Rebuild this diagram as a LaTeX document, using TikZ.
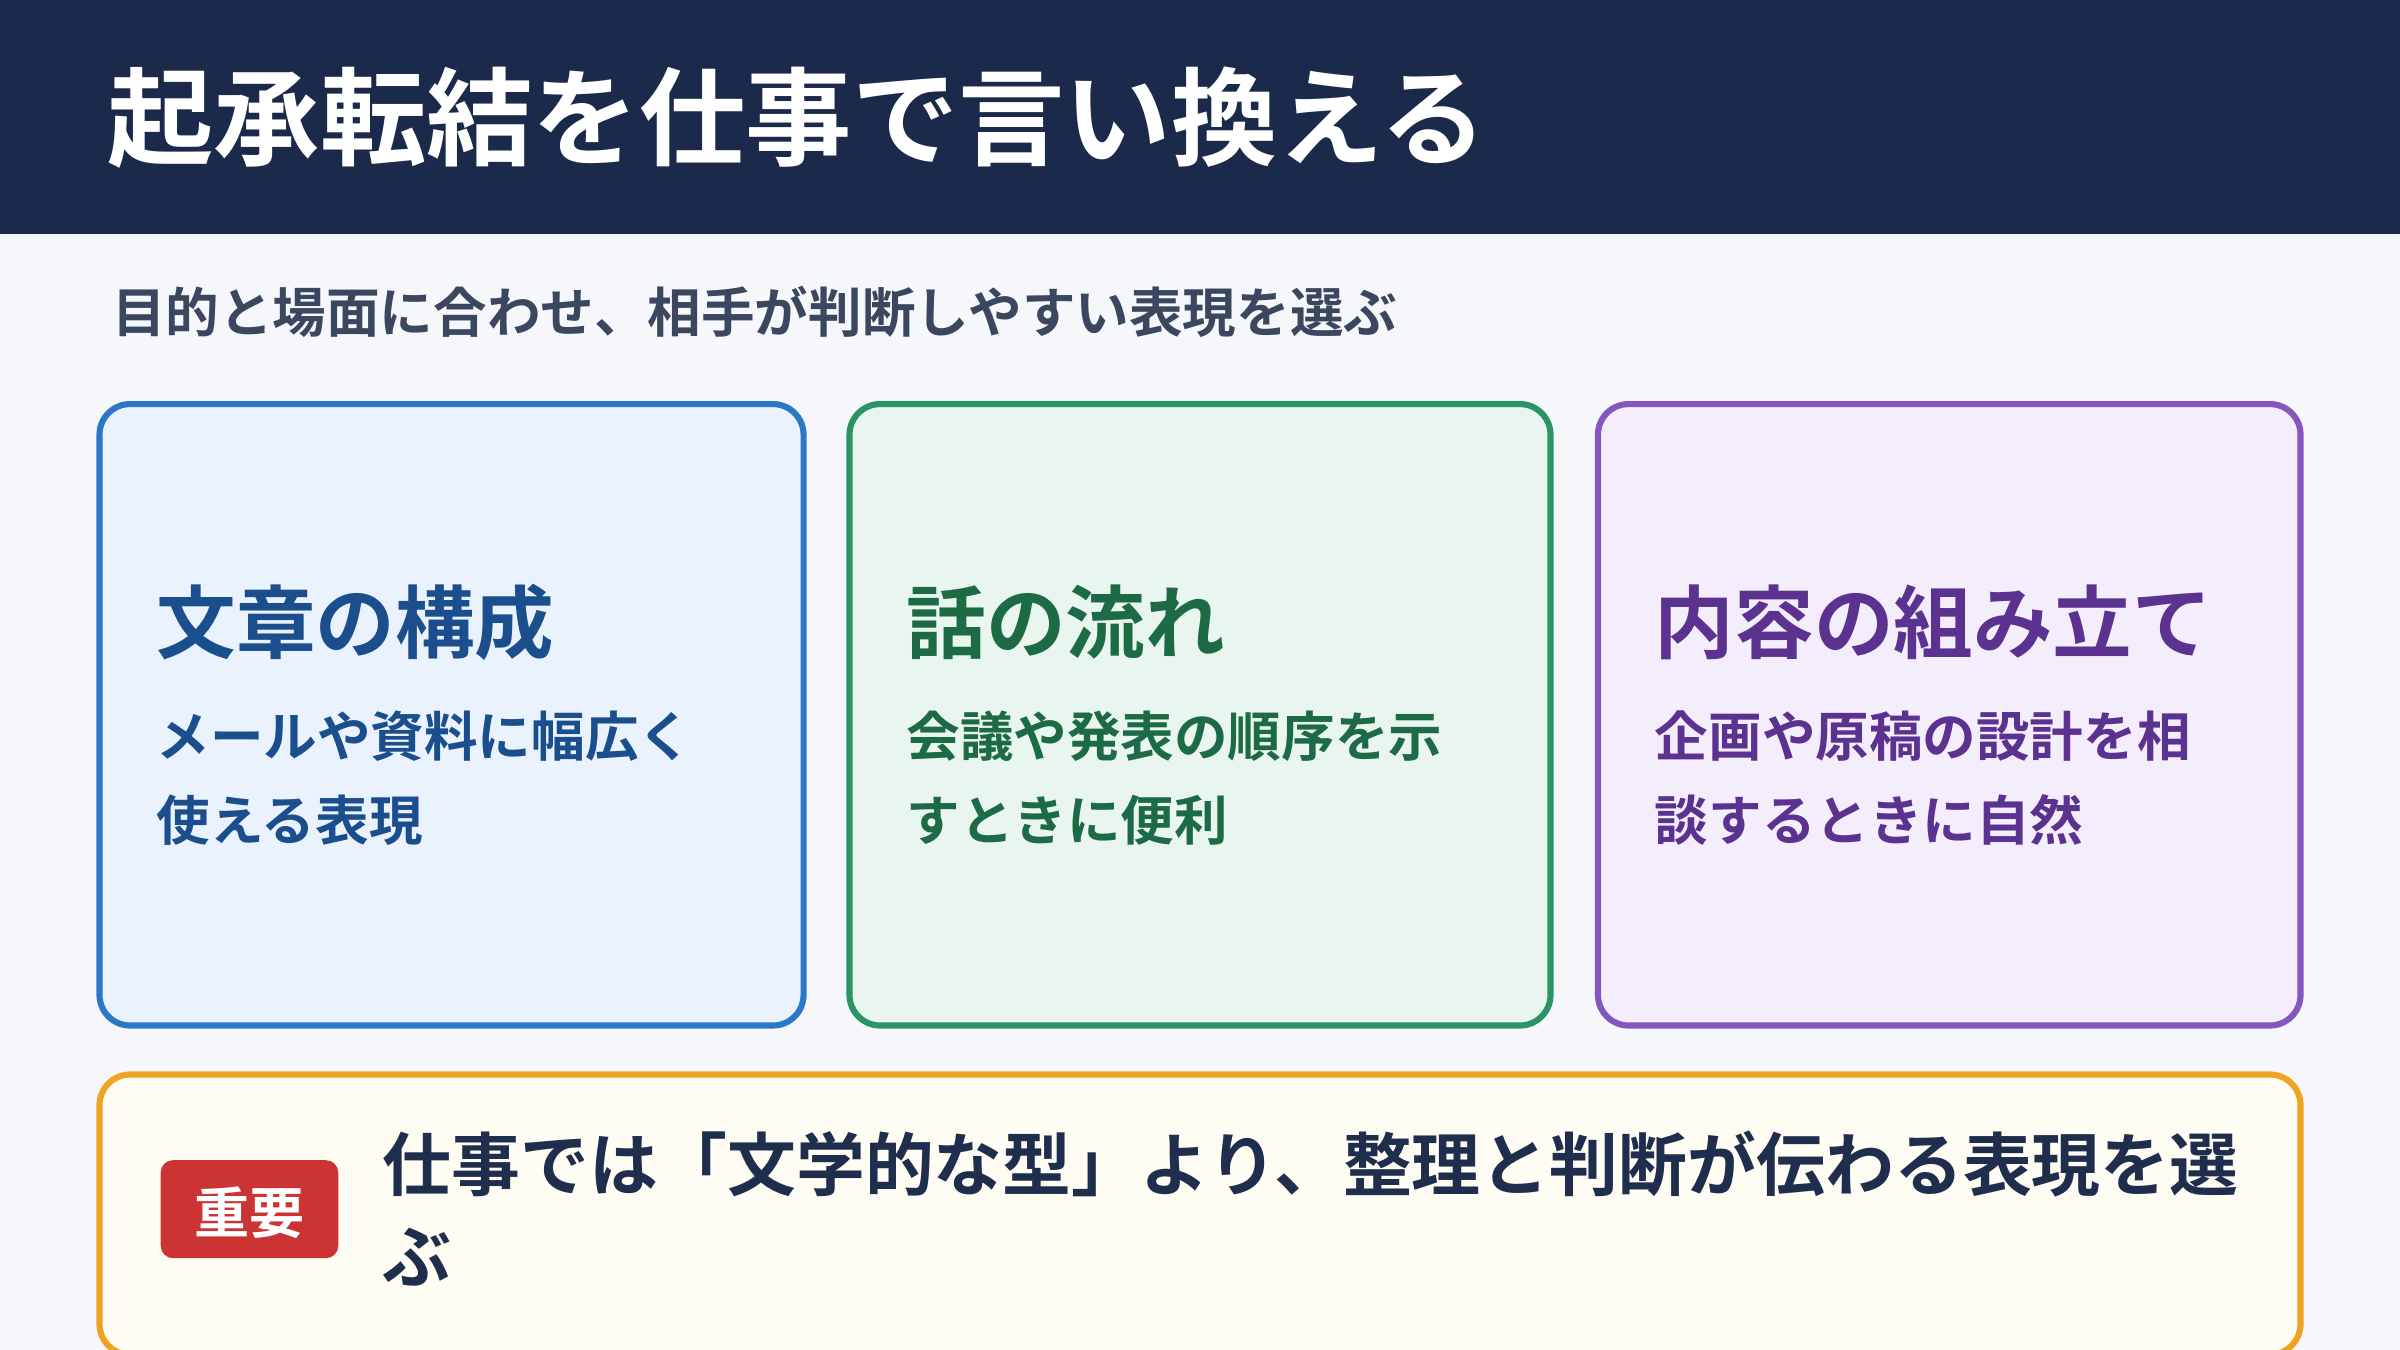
\documentclass[tikz,border=0pt]{standalone}
\usepackage{fontspec}
\setmainfont{Noto Sans CJK JP}[BoldFont={Noto Sans CJK JP Bold}]
\definecolor{bar}{HTML}{1B2A4A}
\definecolor{bg}{HTML}{F5F7FB}
\definecolor{bA}{HTML}{2B78C8}\definecolor{fA}{HTML}{EAF2FD}\definecolor{tA}{HTML}{1A4E8C}
\definecolor{bB}{HTML}{2A9465}\definecolor{fB}{HTML}{E9F6EF}\definecolor{tB}{HTML}{1D6B45}
\definecolor{bC}{HTML}{8456C0}\definecolor{fC}{HTML}{F3EDFC}\definecolor{tC}{HTML}{5B3290}
\definecolor{bD}{HTML}{F0A323}\definecolor{fD}{HTML}{FFFCF3}
\definecolor{red}{HTML}{CC3333}
\definecolor{dark}{HTML}{1F2E4C}
\definecolor{sub}{HTML}{3A475E}
\begin{document}
\begin{tikzpicture}[x=1pt,y=-1pt,
  card/.style={rounded corners=20pt,line width=4pt},
  txt/.style={anchor=base west,inner sep=0pt,font=\bfseries},
  head/.style={txt,font=\fontsize{52}{60}\selectfont\bfseries},
  body/.style={txt,font=\fontsize{35}{40}\selectfont\bfseries}]
\useasboundingbox (0,0) rectangle (1568,882);
\fill[bg] (0,0) rectangle (1568,882);
\fill[bar] (0,0) rectangle (1568,153);
\node[txt,text=white,font=\fontsize{69.5}{76}\selectfont\bfseries] (title) at (70,103) {起承転結を仕事で言い換える};
\node[txt,text=sub,font=\fontsize{35}{40}\selectfont\bfseries] (subt) at (73,217) {目的と場面に合わせ、相手が判断しやすい表現を選ぶ};
\draw[card,draw=bA,fill=fA] (65,264) rectangle (525,670);
\draw[card,draw=bB,fill=fB] (555,264) rectangle (1013,670);
\draw[card,draw=bC,fill=fC] (1044,264) rectangle (1503,670);
\node[head,text=tA] (h1) at (102,426) {文章の構成};
\node[body,text=tA] (a1) at (102,494) {メールや資料に幅広く};
\node[body,text=tA] (a2) at (102,549) {使える表現};
\node[head,text=tB] (h2) at (592,426) {話の流れ};
\node[body,text=tB] (b1) at (592,494) {会議や発表の順序を示};
\node[body,text=tB] (b2) at (592,549) {すときに便利};
\node[head,text=tC] (h3) at (1081,426) {内容の組み立て};
\node[body,text=tC] (c1) at (1081,494) {企画や原稿の設計を相};
\node[body,text=tC] (c2) at (1081,549) {談するときに自然};
\draw[card,draw=bD,fill=fD] (65,702) rectangle (1503,885);
\fill[red,rounded corners=8pt] (105,758) rectangle (221,822);
\node[text=white,inner sep=0pt,font=\fontsize{36}{40}\selectfont\bfseries] (badge) at (163,792) {重要};
\node[txt,text=dark,font=\fontsize{45}{56}\selectfont\bfseries] (m1) at (250,778) {仕事では「文学的な型」より、整理と判断が伝わる表現を選};
\node[txt,text=dark,font=\fontsize{45}{56}\selectfont\bfseries] (m2) at (250,838) {ぶ};
\end{tikzpicture}
\end{document}
